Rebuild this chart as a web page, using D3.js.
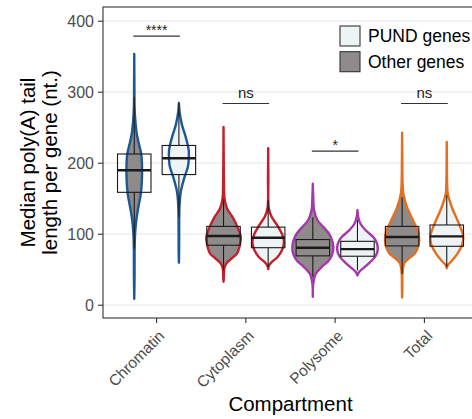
<!DOCTYPE html>
<html>
<head>
<meta charset="utf-8">
<script src="https://cdn.jsdelivr.net/npm/d3@7"></script>
<style>
  body { margin: 0; background: #fff; }
  text { font-family: "Liberation Sans", Arial, Helvetica, sans-serif; }
</style>
</head>
<body>
<svg id="chart" width="472" height="419"></svg>
<script>
/*  DATA   */
var compartments = ["Chromatin", "Cytoplasm", "Polysome", "Total"];
var groups = ["Other genes", "PUND genes"];
var legendOrder = ["PUND genes", "Other genes"];
var yTicks = [0, 100, 200, 300, 400];

// [lower whisker, q1, median, q3, upper whisker]
var otherBox = [[80, 159, 190, 213, 293], [49, 84.5, 97.5, 111, 149], [40, 69.5, 81, 92.5, 124], [44, 83.5, 96, 111, 152]];
var pundBox  = [[124, 184, 207, 225, 284], [54, 81, 95, 110, 148], [49, 69, 79, 90, 120], [54, 83, 97, 113, 155]];

// violin outline: [value, relative density]
var otherViolin = [
  [[354,0],[300,0.01],[280,0.015],[261,0.05],[242,0.12],[228,0.22],[213,0.34],[195,0.38],[175,0.37],[157,0.32],[138,0.2],[120,0.1],[100,0.04],[80,0.02],[40,0.015],[9,0]],
  [[251,0],[200,0.01],[173,0.02],[150,0.05],[137,0.16],[124,0.44],[110,0.68],[96,0.84],[85,0.8],[73,0.66],[66,0.4],[59,0.14],[52,0.04],[40,0.015],[33,0]],
  [[171,0],[153,0.02],[134,0.06],[120,0.22],[110,0.52],[101,0.78],[92,0.93],[82,1.0],[72,0.95],[63,0.78],[54,0.44],[44,0.14],[30,0.02],[12,0]],
  [[243,0],[200,0.01],[176,0.02],[157,0.06],[138,0.24],[119,0.54],[105,0.76],[96,0.83],[85,0.8],[73,0.63],[66,0.33],[59,0.11],[45,0.02],[25,0.01],[11,0]]
];
var pundViolin = [
  [[285,0],[273,0.03],[254,0.15],[236,0.34],[218,0.48],[205,0.48],[195,0.44],[180,0.27],[161,0.1],[140,0.03],[110,0.015],[80,0.012],[60,0]],
  [[221,0],[180,0.01],[137,0.03],[125,0.16],[112,0.45],[100,0.68],[89,0.77],[78,0.68],[68,0.46],[61,0.18],[56,0.04],[51,0]],
  [[134,0],[124,0.04],[114,0.16],[105,0.42],[95,0.8],[87,0.95],[79,0.99],[70,0.9],[63,0.7],[54,0.36],[47,0.09],[42,0]],
  [[230,0],[190,0.01],[171,0.02],[157,0.05],[138,0.25],[119,0.53],[105,0.73],[97,0.8],[86,0.76],[73,0.53],[62,0.23],[57,0.06],[52,0]]
];

var sigLabels = ["****", "ns", "*", "ns"];
var sigY = [379, 284, 217, 284];

var outlineColor = { "Chromatin": "#1d5894", "Cytoplasm": "#c41f2a", "Polysome": "#a23aa8", "Total": "#e2701f" };
var fillColor = { "Other genes": "#8f8b8b", "PUND genes": "#eef3f5" };

/*  LAYOUT   */
var svg = d3.select("#chart");
var panel = { left: 103, right: 478, top: 7, bottom: 318 };

var x = d3.scalePoint().domain(compartments).range([panel.left, panel.right]).padding(0.6);
var step = x.step();
var y = d3.scaleLinear().domain([-18, 420]).range([panel.bottom, panel.top]);
var w = d3.scaleLinear().domain([0, 1]).range([0, 0.23 * step]);
var boxHalf = 0.1875 * step;

function groupX(c, g) {
  return x(c) + (g === 0 ? -1 : 1) * 0.25 * step;
}

/*  GRID   */
svg.append("g").selectAll("line").data(yTicks).enter().append("line")
  .attr("x1", panel.left).attr("x2", panel.right)
  .attr("y1", function(d) { return y(d); }).attr("y2", function(d) { return y(d); })
  .attr("stroke", "#ebebeb").attr("stroke-width", 1.3);

/*  VIOLINS + BOXES   */
var marks = [];
compartments.forEach(function(c, i) {
  marks.push({ c: c, g: 0, box: otherBox[i], violin: otherViolin[i] });
  marks.push({ c: c, g: 1, box: pundBox[i], violin: pundViolin[i] });
});

var violinGroup = svg.append("g");
var boxGroup = svg.append("g");

marks.forEach(function(m) {
  var cx = groupX(m.c, m.g);
  var area = d3.area()
    .y(function(d) { return y(d[0]); })
    .x0(function(d) { return cx - w(d[1]); })
    .x1(function(d) { return cx + w(d[1]); })
    .curve(d3.curveCatmullRom.alpha(0.5));
  violinGroup.append("path")
    .attr("d", area(m.violin))
    .attr("fill", fillColor[groups[m.g]])
    .attr("stroke", outlineColor[m.c])
    .attr("stroke-width", 2.4)
    .attr("stroke-linejoin", "round");

  var b = m.box;
  var g = boxGroup.append("g").attr("stroke", "#1a1a1a");
  g.append("line").attr("x1", cx).attr("x2", cx).attr("y1", y(b[0])).attr("y2", y(b[1])).attr("stroke-width", 1.1);
  g.append("line").attr("x1", cx).attr("x2", cx).attr("y1", y(b[3])).attr("y2", y(b[4])).attr("stroke-width", 1.1);
  g.append("rect")
    .attr("x", cx - boxHalf).attr("width", boxHalf * 2)
    .attr("y", y(b[3])).attr("height", y(b[1]) - y(b[3]))
    .attr("fill", "none").attr("stroke-width", 1.1);
  g.append("line").attr("x1", cx - boxHalf).attr("x2", cx + boxHalf)
    .attr("y1", y(b[2])).attr("y2", y(b[2])).attr("stroke-width", 2.4);
});

/*  SIGNIFICANCE BRACKETS   */
var sig = svg.append("g");
compartments.forEach(function(c, i) {
  var yy = y(sigY[i]);
  sig.append("line")
    .attr("x1", groupX(c, 0) - 1).attr("x2", groupX(c, 1) + 1)
    .attr("y1", yy).attr("y2", yy)
    .attr("stroke", "#333").attr("stroke-width", 1.1);
  var star = sigLabels[i].indexOf("*") >= 0;
  sig.append("text")
    .attr("x", x(c)).attr("y", yy - (star ? 1.5 : 6))
    .attr("text-anchor", "middle")
    .attr("font-size", star ? 14 : 15).attr("fill", "#222")
    .text(sigLabels[i]);
});

/*  AXES   */
svg.append("rect")
  .attr("x", panel.left).attr("y", panel.top)
  .attr("width", panel.right - panel.left).attr("height", panel.bottom - panel.top)
  .attr("fill", "none").attr("stroke", "#333").attr("stroke-width", 1.1);

var yAxis = svg.append("g");
yTicks.forEach(function(t) {
  yAxis.append("line").attr("x1", panel.left - 5).attr("x2", panel.left)
    .attr("y1", y(t)).attr("y2", y(t)).attr("stroke", "#333").attr("stroke-width", 1.1);
  yAxis.append("text").attr("x", panel.left - 9).attr("y", y(t)).attr("dy", "0.35em")
    .attr("text-anchor", "end").attr("font-size", 16).attr("fill", "#4d4d4d").text(t);
});

var xAxis = svg.append("g");
compartments.forEach(function(c) {
  xAxis.append("line").attr("x1", x(c)).attr("x2", x(c))
    .attr("y1", panel.bottom).attr("y2", panel.bottom + 5).attr("stroke", "#333").attr("stroke-width", 1.1);
  xAxis.append("text")
    .attr("transform", "translate(" + (x(c) + 1) + "," + (panel.bottom + 11) + ") rotate(-45)")
    .attr("dy", "0.72em")
    .attr("text-anchor", "end").attr("font-size", 15.5).attr("fill", "#4d4d4d").text(c);
});

svg.append("text")
  .attr("x", (panel.left + panel.right) / 2).attr("y", 411)
  .attr("text-anchor", "middle").attr("font-size", 20.5).attr("fill", "#000")
  .text("Compartment");

var yTitle = svg.append("text")
  .attr("transform", "translate(0," + ((panel.top + panel.bottom) / 2) + ") rotate(-90)")
  .attr("text-anchor", "middle").attr("font-size", 20.5).attr("fill", "#000");
yTitle.append("tspan").attr("x", 0).attr("y", 35).text("Median poly(A) tail");
yTitle.append("tspan").attr("x", 0).attr("y", 57).text("length per gene (nt.)");

/*  LEGEND   */
var legend = svg.append("g").attr("transform", "translate(340,26)");
legendOrder.forEach(function(name, i) {
  legend.append("rect").attr("x", 0).attr("y", i * 25.7)
    .attr("width", 20).attr("height", 20)
    .attr("fill", fillColor[name]).attr("stroke", "#333").attr("stroke-width", 1.1);
  legend.append("text").attr("x", 28).attr("y", i * 25.7 + 10).attr("dy", "0.36em")
    .attr("font-size", 17.5).attr("fill", "#000").text(name);
});
</script>
</body>
</html>
